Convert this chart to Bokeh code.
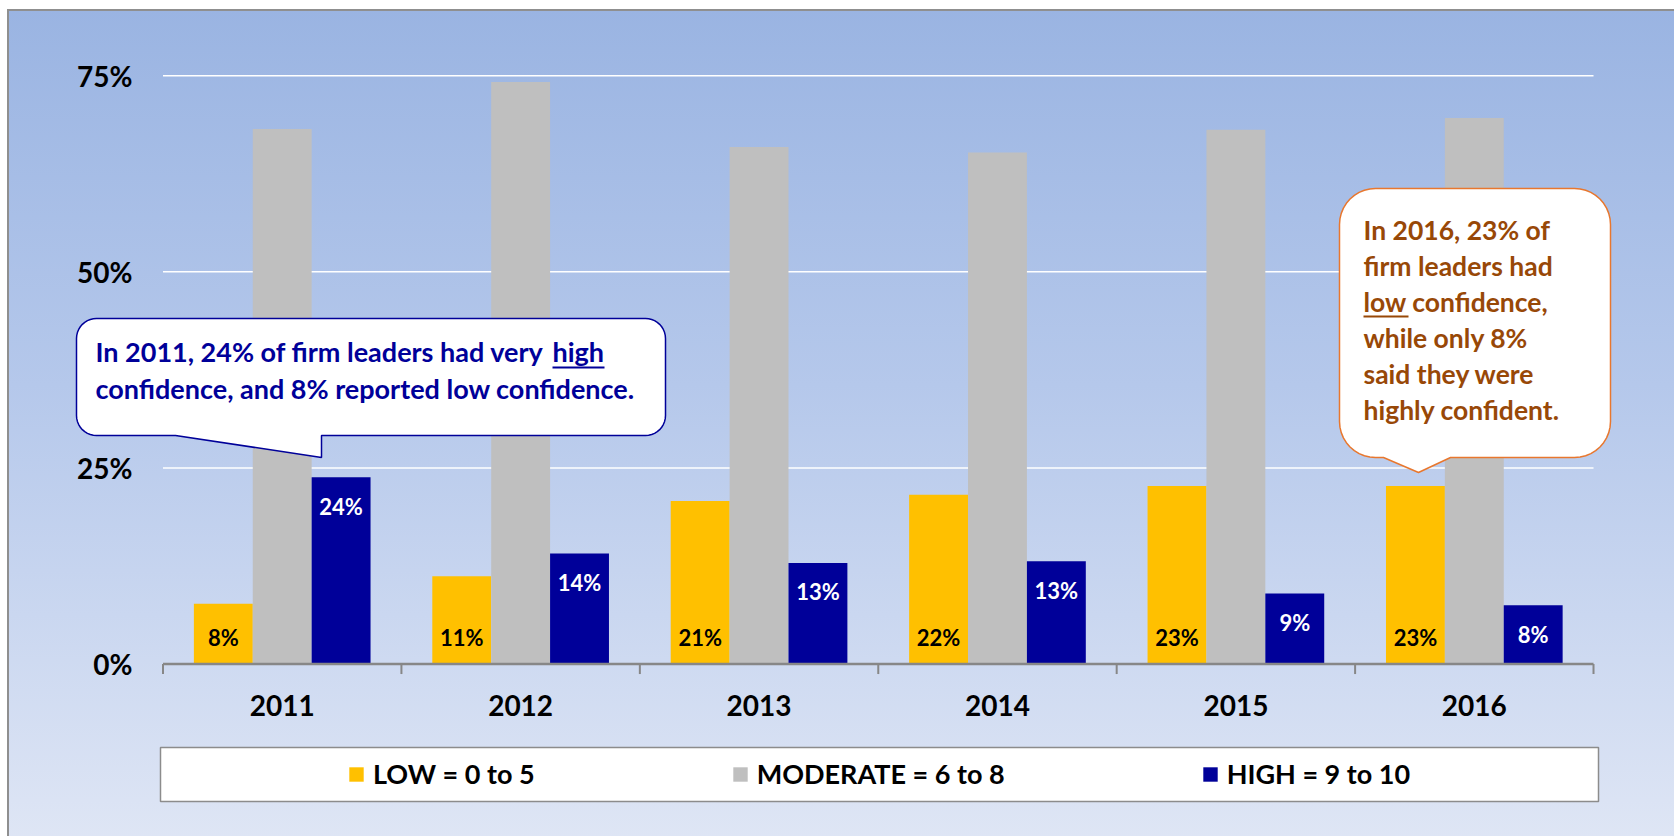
import math
from bokeh.plotting import figure
from bokeh.models import (Range1d, FixedTicker, NumeralTickFormatter, Legend,
                          LegendItem, Label, PolyAnnotation, BoxAnnotation, ColumnDataSource)
from bokeh.transform import dodge
from bokeh.core.properties import value
from bokeh.embed import file_html
from bokeh.resources import INLINE

# ---------------- data ----------------
years = ["2011", "2012", "2013", "2014", "2015", "2016"]
low = [0.077, 0.112, 0.208, 0.216, 0.227, 0.227]
moderate = [0.682, 0.742, 0.659, 0.652, 0.681, 0.696]
high = [0.238, 0.141, 0.129, 0.131, 0.090, 0.075]
series_names = ["LOW = 0 to 5", "MODERATE = 6 to 8", "HIGH = 9 to 10"]
y_ticks = [0, 0.25, 0.5, 0.75]

callout1_lines = ["In 2011, 24% of firm leaders had very", "confidence, and 8% reported low confidence."]
callout1_word = "high"
callout2_lines = ["In 2016, 23% of", "firm leaders had", "low confidence,", "while only 8%",
                  "said they were", "highly confident."]

# ---------------- styles ----------------
FONT = "Lato"
C_LOW, C_MOD, C_HIGH = "#FFC000", "#BFBFBF", "#000099"
C_BLUE_TXT = "#000099"
C_BROWN = "#984807"
C_ORANGE = "#E8772E"
C_AXIS = "#878787"

W, H = 1674, 836
ML, MR, MT, MB = 70, 60, 36, 28
FL = ML            # frame left (px)
FB = H - MB        # frame bottom (px)
X0, X1 = -0.388, 6.088
Y0, Y1 = -0.1841, 0.80

p = figure(width=W, height=H, x_range=Range1d(X0, X1), y_range=Range1d(Y0, Y1),
           output_backend="svg", toolbar_location=None,
           min_border_left=ML, min_border_right=MR, min_border_top=MT, min_border_bottom=MB)
p.background_fill_color = None
p.border_fill_color = None
p.outline_line_color = None
p.styles = {
    "background-color": "white",
    "background-image": ("linear-gradient(#8F8F8F, #8F8F8F), linear-gradient(#8F8F8F, #8F8F8F), "
                         "linear-gradient(to bottom, #9AB4E2 0%, #B5C8EB 45%, #DFE6F5 100%)"),
    "background-position": "7px 9px, 7px 9px, 7px 9px",
    "background-size": "100% 2px, 2px 100%, 100% 100%",
    "background-repeat": "no-repeat",
}

centers = [i + 0.5 for i in range(len(years))]
bounds = list(range(len(years) + 1))

src = ColumnDataSource(dict(
    x=centers, year=years, low=low, moderate=moderate, high=high,
    low_lbl=[f"{v:.0%}" for v in low], high_lbl=[f"{v:.0%}" for v in high]))

# gridlines (white) inside the category span
grid_y = y_ticks[1:]
p.segment(x0=[bounds[0]] * len(grid_y), y0=grid_y, x1=[bounds[-1]] * len(grid_y), y1=grid_y,
          line_color="white", line_width=1.5)

bw = 0.247
r_low = p.vbar(x=dodge("x", -bw), top="low", width=bw, source=src,
               fill_color=C_LOW, line_color=None)
r_mod = p.vbar(x=dodge("x", 0), top="moderate", width=bw, source=src,
               fill_color=C_MOD, line_color=None)
r_high = p.vbar(x=dodge("x", bw), top="high", width=bw, source=src,
                fill_color=C_HIGH, line_color=None)

p.text(x=dodge("x", -bw), y=0, text="low_lbl", source=src,
       text_align="center", text_baseline="middle", y_offset=-27,
       text_font=value(FONT), text_font_style="bold", text_font_size="22px", text_color="black")
p.text(x=dodge("x", bw), y="high", text="high_lbl", source=src,
       text_align="center", text_baseline="middle", y_offset=29,
       text_font=value(FONT), text_font_style="bold", text_font_size="22px", text_color="white")

# x axis line and category boundary ticks
p.segment(x0=[bounds[0]], y0=[0], x1=[bounds[-1]], y1=[0], line_color=C_AXIS, line_width=2.5)
p.segment(x0=bounds, y0=[0] * len(bounds), x1=bounds, y1=[-0.0127] * len(bounds),
          line_color=C_AXIS, line_width=2)

# axes
p.xgrid.visible = False
p.ygrid.visible = False

p.yaxis.ticker = FixedTicker(ticks=y_ticks)
p.yaxis.formatter = NumeralTickFormatter(format="0%")
p.yaxis.axis_line_color = None
p.yaxis.major_tick_line_color = None
p.yaxis.minor_tick_line_color = None
p.yaxis.major_tick_out = 0
p.yaxis.major_tick_in = 0
p.yaxis.major_label_standoff = -62
p.yaxis.major_label_text_font = FONT
p.yaxis.major_label_text_font_style = "bold"
p.yaxis.major_label_text_font_size = "28px"
p.yaxis.major_label_text_color = "black"

p.xaxis.ticker = FixedTicker(ticks=centers)
p.xaxis.major_label_overrides = {c: y for c, y in zip(centers, years)}
p.xaxis.axis_line_color = None
p.xaxis.major_tick_line_color = None
p.xaxis.minor_tick_line_color = None
p.xaxis.major_tick_out = 0
p.xaxis.major_tick_in = 0
p.xaxis.major_label_standoff = -114
p.xaxis.major_label_text_font = FONT
p.xaxis.major_label_text_font_style = "bold"
p.xaxis.major_label_text_font_size = "28px"
p.xaxis.major_label_text_color = "black"


def sx(X):
    return X - FL


def sy(Y):
    return FB - Y


# legend box
p.add_layout(BoxAnnotation(left=sx(160), right=sx(1598), top=sy(747), bottom=sy(801),
                           left_units="screen", right_units="screen",
                           top_units="screen", bottom_units="screen",
                           fill_color="white", fill_alpha=1,
                           line_color="#8C8C8C", line_alpha=1, line_width=1.5))

legend = Legend(items=[LegendItem(label=series_names[0], renderers=[r_low]),
                       LegendItem(label=series_names[1], renderers=[r_mod]),
                       LegendItem(label=series_names[2], renderers=[r_high])],
                orientation="horizontal", location=(sx(347), sy(790)),
                padding=0, margin=0, spacing=196, glyph_width=18, glyph_height=18,
                label_standoff=8, label_text_font=FONT, label_text_font_style="bold",
                label_text_font_size="27px", label_text_color="black",
                background_fill_alpha=0, border_line_color=None)
p.add_layout(legend)


def callout(L, T, R, B, r, xl, xr, tx, ty, n=10):
    pts = []
    corners = [((L + r, T + r), 180, 270), ((R - r, T + r), 270, 360),
               ((R - r, B - r), 0, 90)]
    for (cx, cy), a0, a1 in corners:
        for k in range(n + 1):
            a = math.radians(a0 + (a1 - a0) * k / n)
            pts.append((cx + r * math.cos(a), cy + r * math.sin(a)))
    pts += [(xr, B), (tx, ty), (xl, B)]
    cx, cy = L + r, B - r
    for k in range(n + 1):
        a = math.radians(90 + 90 * k / n)
        pts.append((cx + r * math.cos(a), cy + r * math.sin(a)))
    return [sx(x) for x, _ in pts], [sy(y) for _, y in pts]


xs1, ys1 = callout(76, 318, 665, 435, 20, 175, 321, 321, 457)
p.add_layout(PolyAnnotation(xs=xs1, ys=ys1, xs_units="screen", ys_units="screen",
                            fill_color="white", fill_alpha=1,
                            line_color=C_BLUE_TXT, line_alpha=1, line_width=1.5))
xs2, ys2 = callout(1339, 188, 1610, 457, 36, 1383, 1450, 1418, 472)
p.add_layout(PolyAnnotation(xs=xs2, ys=ys2, xs_units="screen", ys_units="screen",
                            fill_color="white", fill_alpha=1,
                            line_color=C_ORANGE, line_alpha=1, line_width=1.5))


def label(text, X, Y, color, size):
    p.add_layout(Label(x=sx(X), y=sy(Y), x_units="screen", y_units="screen", text=text,
                       text_font=FONT, text_font_style="bold", text_font_size=size,
                       text_color=color, text_align="left", text_baseline="middle"))


def underline(X0_, X1_, Y, color):
    p.add_layout(BoxAnnotation(left=sx(X0_), right=sx(X1_), top=sy(Y), bottom=sy(Y + 2),
                               left_units="screen", right_units="screen",
                               top_units="screen", bottom_units="screen",
                               fill_color=color, fill_alpha=1, line_color=None))


label(callout1_lines[0], 95, 351, C_BLUE_TXT, "27px")
label(callout1_word, 552, 351, C_BLUE_TXT, "27px")
underline(552, 604, 366, C_BLUE_TXT)
label(callout1_lines[1], 95, 388, C_BLUE_TXT, "27px")

for i, t in enumerate(callout2_lines):
    label(t, 1363, 229 + i * 36, C_BROWN, "26.5px")
underline(1363, 1408, 315, C_BROWN)

open("out.html", "w").write(file_html(p, INLINE))
